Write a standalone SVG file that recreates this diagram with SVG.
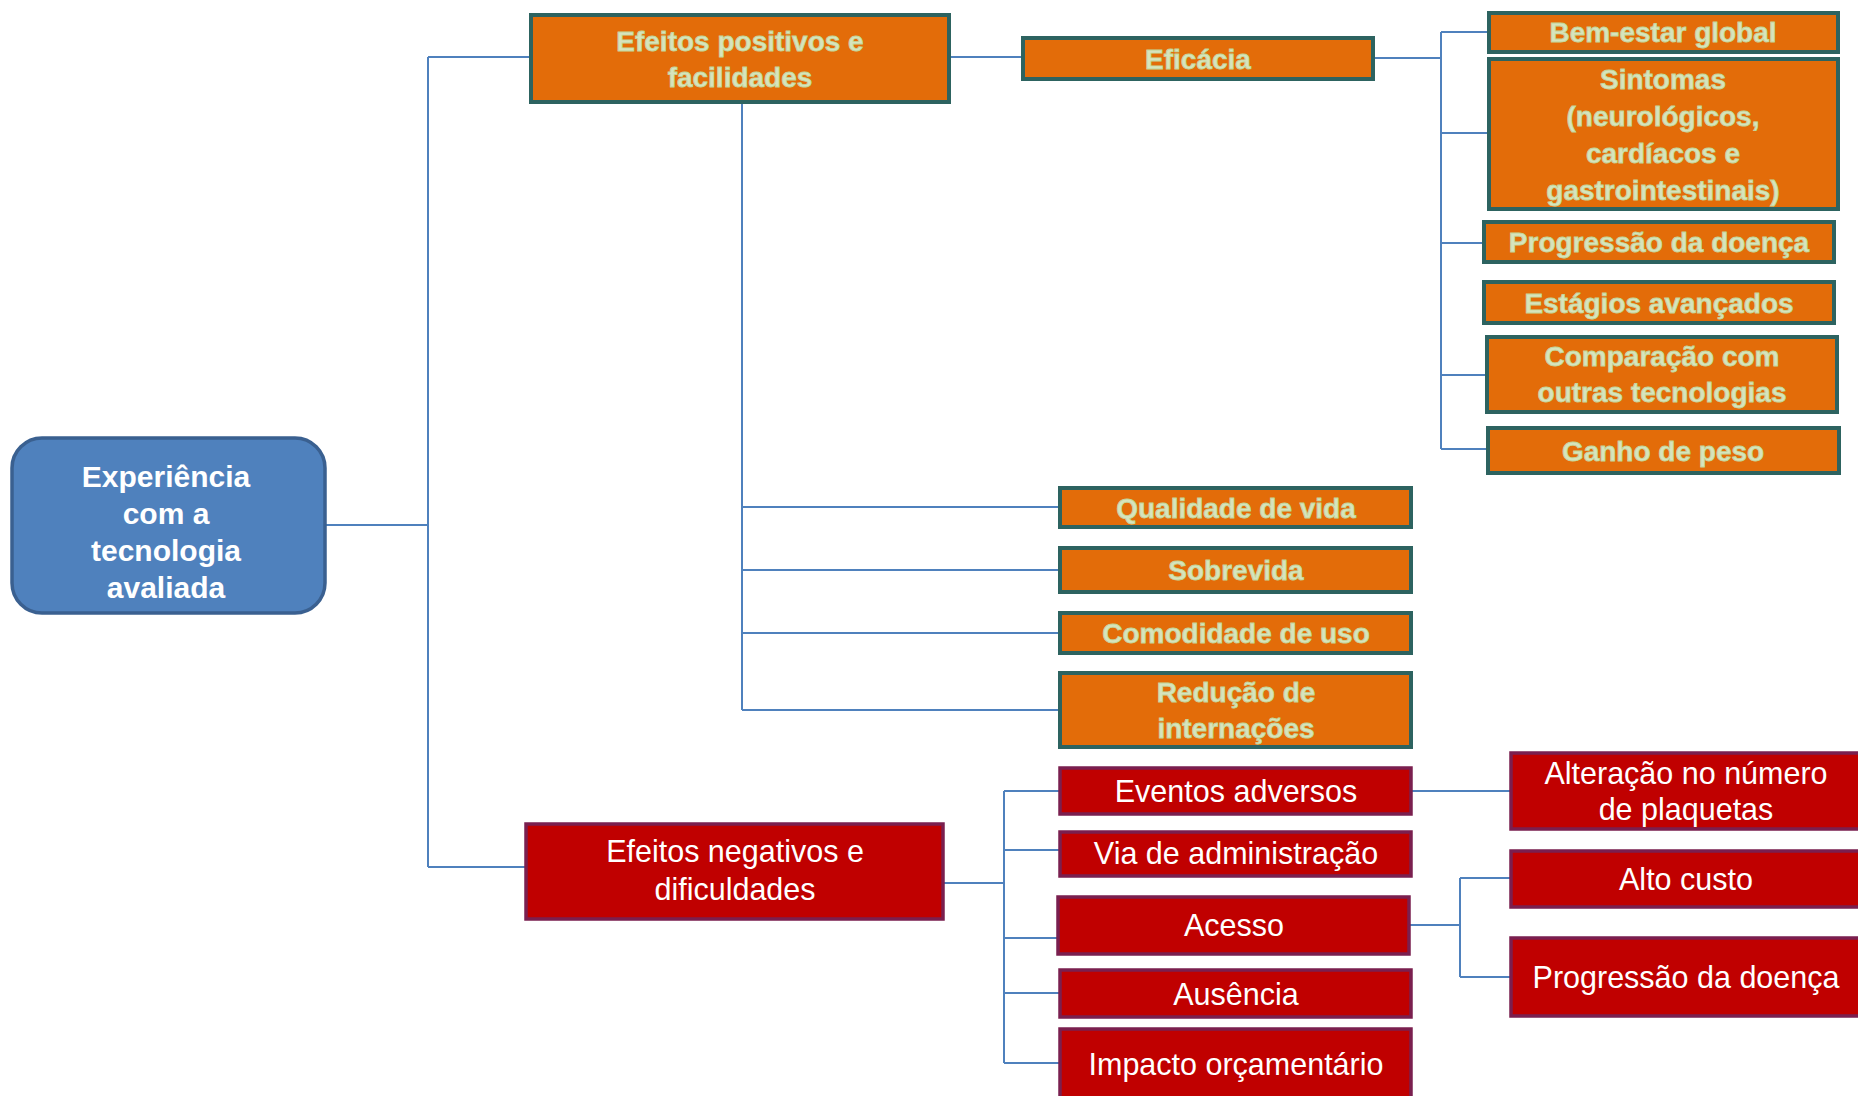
<svg xmlns="http://www.w3.org/2000/svg" width="1858" height="1096" viewBox="0 0 1858 1096">
<style>
.root{fill:#4F81BD;stroke:#3A6090;stroke-width:3.5}
.rt{fill:#FFFFFF;font-family:"Liberation Sans",Arial,sans-serif;font-weight:bold;font-size:30px;text-anchor:middle}
.o{fill:#E36C09;stroke:#2D6360;stroke-width:4}
.ot{fill:#D7E4BD;stroke:#C3D69B;stroke-width:0.8;font-family:"Liberation Sans",Arial,sans-serif;font-weight:bold;font-size:28px;text-anchor:middle}
.r{fill:#C00000;stroke:#7A1F4F;stroke-width:3.5}
.wt{fill:#FFFFFF;font-family:"Liberation Sans",Arial,sans-serif;font-size:30.5px;text-anchor:middle}
.c{fill:none;stroke:#4F81BD;stroke-width:2}
</style>
<rect width="1858" height="1096" fill="#FFFFFF"/>
<g id="connectors">
<path class="c" d="M325 525 H428 M428 57 V867 M428 57 H531 M428 867 H526"/>
<path class="c" d="M949 57 H1022"/>
<path class="c" d="M1373 58 H1441 M1441 32 V449 M1441 32 H1489 M1441 133 H1489 M1441 243 H1484 M1441 375 H1487 M1441 449 H1488"/>
<path class="c" d="M742 102 V710 M742 507 H1060 M742 570 H1060 M742 633 H1060 M742 710 H1060"/>
<path class="c" d="M943 883 H1004" stroke-width="4"/>
<path class="c" d="M1004 791 V1063 M1004 791 H1060 M1004 850 H1060 M1004 938 H1058 M1004 993 H1060 M1004 1063 H1060"/>
<path class="c" d="M1411 791 H1510"/>
<path class="c" d="M1409 925 H1460 M1460 878 V977 M1460 878 H1510 M1460 977 H1510"/>
</g>
<g id="n-root">
<rect class="root" x="12" y="438" width="313" height="175" rx="30"/>
<text class="rt" x="166" y="487">Experiência</text>
<text class="rt" x="166" y="524">com a</text>
<text class="rt" x="166" y="561">tecnologia</text>
<text class="rt" x="166" y="598">avaliada</text>
</g>
<g id="n-positivos">
<rect class="o" x="531" y="15" width="418" height="87"/>
<text class="ot" x="740" y="51">Efeitos positivos e</text>
<text class="ot" x="740" y="87">facilidades</text>
</g>
<g id="n-eficacia">
<rect class="o" x="1023" y="38" width="350" height="41"/>
<text class="ot" x="1198" y="69">Eficácia</text>
</g>
<g id="n-bemestar">
<rect class="o" x="1489" y="13" width="349" height="39"/>
<text class="ot" x="1663" y="42">Bem-estar global</text>
</g>
<g id="n-sintomas">
<rect class="o" x="1489" y="59" width="349" height="150"/>
<text class="ot" x="1663" y="89">Sintomas</text>
<text class="ot" x="1663" y="126">(neurológicos,</text>
<text class="ot" x="1663" y="163">cardíacos e</text>
<text class="ot" x="1663" y="200">gastrointestinais)</text>
</g>
<g id="n-progressao">
<rect class="o" x="1484" y="222" width="350" height="40"/>
<text class="ot" x="1659" y="252">Progressão da doença</text>
</g>
<g id="n-estagios">
<rect class="o" x="1484" y="282" width="350" height="41"/>
<text class="ot" x="1659" y="313">Estágios avançados</text>
</g>
<g id="n-comparacao">
<rect class="o" x="1487" y="337" width="350" height="75"/>
<text class="ot" x="1662" y="366">Comparação com</text>
<text class="ot" x="1662" y="402">outras tecnologias</text>
</g>
<g id="n-ganho">
<rect class="o" x="1488" y="428" width="351" height="45"/>
<text class="ot" x="1663" y="461">Ganho de peso</text>
</g>
<g id="n-qualidade">
<rect class="o" x="1060" y="488" width="351" height="39"/>
<text class="ot" x="1236" y="518">Qualidade de vida</text>
</g>
<g id="n-sobrevida">
<rect class="o" x="1060" y="548" width="351" height="44"/>
<text class="ot" x="1236" y="580">Sobrevida</text>
</g>
<g id="n-comodidade">
<rect class="o" x="1060" y="613" width="351" height="40"/>
<text class="ot" x="1236" y="643">Comodidade de uso</text>
</g>
<g id="n-reducao">
<rect class="o" x="1060" y="673" width="351" height="74"/>
<text class="ot" x="1236" y="702">Redução de</text>
<text class="ot" x="1236" y="738">internações</text>
</g>
<g id="n-negativos">
<rect class="r" x="526" y="824" width="417" height="95"/>
<text class="wt" x="735" y="862">Efeitos negativos e</text>
<text class="wt" x="735" y="900">dificuldades</text>
</g>
<g id="n-eventos">
<rect class="r" x="1060" y="768" width="351" height="46"/>
<text class="wt" x="1236" y="802">Eventos adversos</text>
</g>
<g id="n-via">
<rect class="r" x="1060" y="832" width="351" height="44"/>
<text class="wt" x="1236" y="864">Via de administração</text>
</g>
<g id="n-acesso">
<rect class="r" x="1058" y="897" width="351" height="57"/>
<text class="wt" x="1234" y="936">Acesso</text>
</g>
<g id="n-ausencia">
<rect class="r" x="1060" y="970" width="351" height="47"/>
<text class="wt" x="1236" y="1005">Ausência</text>
</g>
<g id="n-impacto">
<rect class="r" x="1060" y="1029" width="351" height="80"/>
<text class="wt" x="1236" y="1075">Impacto orçamentário</text>
</g>
<g id="n-alteracao">
<rect class="r" x="1511" y="753" width="360" height="76"/>
<text class="wt" x="1686" y="784">Alteração no número</text>
<text class="wt" x="1686" y="820">de plaquetas</text>
</g>
<g id="n-altocusto">
<rect class="r" x="1511" y="851" width="360" height="56"/>
<text class="wt" x="1686" y="890">Alto custo</text>
</g>
<g id="n-progressao2">
<rect class="r" x="1511" y="938" width="360" height="78"/>
<text class="wt" x="1686" y="988">Progressão da doença</text>
</g>
</svg>
